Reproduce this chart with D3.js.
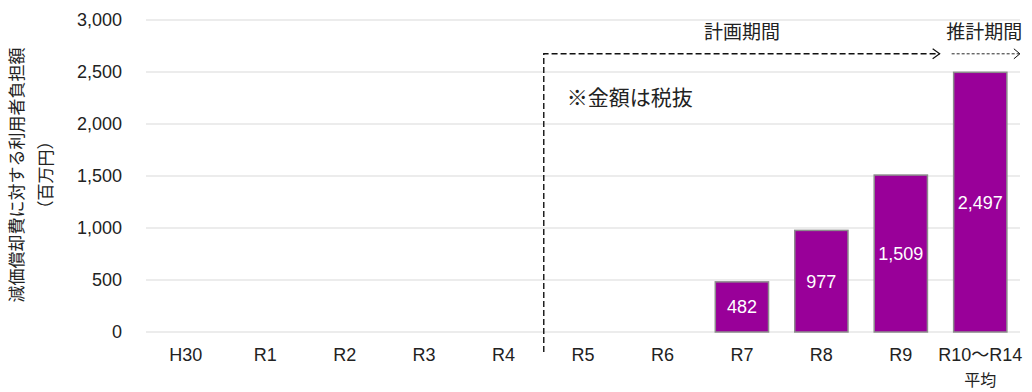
<!DOCTYPE html>
<html>
<head>
<meta charset="utf-8">
<script src="https://cdnjs.cloudflare.com/ajax/libs/d3/7.8.5/d3.min.js"></script>
<style>
  body { margin: 0; background: #fff; }
  text { font-family: "Liberation Sans", Arial, "Noto Sans CJK JP", sans-serif; fill: #222; }
  .jp { font-family: "Noto Sans CJK JP", sans-serif; }
</style>
</head>
<body>
<div id="chart"></div>
<script>
var categories = ["H30", "R1", "R2", "R3", "R4", "R5", "R6", "R7", "R8", "R9", "R10～R14"];
var values = [null, null, null, null, null, null, null, 482, 977, 1509, 2497];
var yTicks = [0, 500, 1000, 1500, 2000, 2500, 3000];

var W = 1032, H = 392;
var margin = {top: 20, right: 12, bottom: 60, left: 146};
var width = W - margin.left - margin.right,
    height = H - margin.top - margin.bottom;

var svg = d3.select("#chart").append("svg")
    .attr("width", W).attr("height", H);
var g = svg.append("g")
    .attr("transform", "translate(" + margin.left + "," + margin.top + ")");

var x = d3.scaleBand().domain(categories).range([0, width]).paddingInner(0.33).paddingOuter(0.165);
var y = d3.scaleLinear().domain([0, 3000]).range([height, 0]);
var fmt = d3.format(",");

// grid lines
g.selectAll(".grid").data(yTicks).enter().append("line")
    .attr("x1", 0).attr("x2", width)
    .attr("y1", function(d) { return y(d); })
    .attr("y2", function(d) { return y(d); })
    .attr("stroke", "#d9d9d9").attr("stroke-width", 1);

// y axis
var yAxis = g.append("g")
    .call(d3.axisLeft(y).tickValues(yTicks).tickFormat(fmt).tickSize(0).tickPadding(24));
yAxis.select(".domain").remove();
yAxis.selectAll("text").style("font-size", "18px").attr("fill", "#222")
    .style("font-family", "'Liberation Sans', Arial, sans-serif");

// x axis
var xAxis = g.append("g")
    .attr("transform", "translate(0," + height + ")")
    .call(d3.axisBottom(x).tickSize(0).tickPadding(16));
xAxis.select(".domain").remove();
xAxis.selectAll("text").style("font-size", "18px").attr("fill", "#222")
    .style("font-family", "'Liberation Sans', Arial, 'Noto Sans CJK JP', sans-serif");
// second line under last label
g.append("text")
    .attr("class", "jp")
    .attr("x", x(categories[10]) + x.bandwidth() / 2)
    .attr("y", height + 54)
    .attr("text-anchor", "middle")
    .style("font-size", "16px")
    .text("平均");

// bars
var data = categories.map(function(c, i) { return {cat: c, v: values[i]}; })
    .filter(function(d) { return d.v != null; });
g.selectAll(".bar").data(data).enter().append("rect")
    .attr("x", function(d) { return x(d.cat); })
    .attr("y", function(d) { return y(d.v); })
    .attr("width", x.bandwidth())
    .attr("height", function(d) { return height - y(d.v); })
    .attr("fill", "#990099")
    .attr("stroke", "#8c8c8c").attr("stroke-width", 1.5);

g.selectAll(".lbl").data(data).enter().append("text")
    .attr("x", function(d) { return x(d.cat) + x.bandwidth() / 2; })
    .attr("y", function(d) { return (y(d.v) + height) / 2; })
    .attr("dy", "0.36em")
    .attr("text-anchor", "middle")
    .style("font-size", "18px")
    .style("fill", "#fff")
    .text(function(d) { return fmt(d.v); });

// y axis title
var yt = svg.append("text")
    .attr("class", "jp")
    .attr("transform", "translate(23," + (margin.top + height / 2 - 1) + ") rotate(-90)")
    .attr("text-anchor", "middle")
    .style("font-size", "17px");
yt.append("tspan").attr("x", 0).attr("dy", 0).text("減価償却費に対する利用者負担額");
yt.append("tspan").attr("x", 0).attr("dy", "1.7em").text("（百万円）");

// plan period bracket
var step = x.step();
var xSplit = x("R5") - x.paddingInner() * step / 2 + 0.5;
var yArrow = y(2675);
var xPlanEnd = x(categories[10]) - 14;
g.append("path")
    .attr("d", "M" + xSplit + "," + (height + 20) + "V" + yArrow + "H" + xPlanEnd)
    .attr("fill", "none").attr("stroke", "#111").attr("stroke-width", 1.4)
    .attr("stroke-dasharray", "6,3");
g.append("path")
    .attr("d", "M" + (xPlanEnd - 7) + "," + (yArrow - 5) + "L" + xPlanEnd + "," + yArrow + "L" + (xPlanEnd - 7) + "," + (yArrow + 5))
    .attr("fill", "none").attr("stroke", "#111").attr("stroke-width", 1.2);

// estimate period arrow
var xEstStart = x(categories[10]) - 2;
var xEstEnd = x(categories[10]) + x.bandwidth() + 13;
g.append("line")
    .attr("x1", xEstStart).attr("x2", xEstEnd)
    .attr("y1", yArrow).attr("y2", yArrow)
    .attr("stroke", "#111").attr("stroke-width", 0.9)
    .attr("stroke-dasharray", "3,2");
g.append("path")
    .attr("d", "M" + (xEstEnd - 6) + "," + (yArrow - 5) + "L" + xEstEnd + "," + yArrow + "L" + (xEstEnd - 6) + "," + (yArrow + 5))
    .attr("fill", "none").attr("stroke", "#111").attr("stroke-width", 1);

g.append("text").attr("class", "jp")
    .attr("x", x("R7") + x.bandwidth() / 2)
    .attr("y", yArrow - 15)
    .attr("text-anchor", "middle")
    .style("font-size", "19px")
    .text("計画期間");
g.append("text").attr("class", "jp")
    .attr("x", x(categories[10]) + x.bandwidth() / 2 + 4)
    .attr("y", yArrow - 15)
    .attr("text-anchor", "middle")
    .style("font-size", "19px")
    .text("推計期間");

g.append("text").attr("class", "jp")
    .attr("x", xSplit + 23)
    .attr("y", y(2250) + 7)
    .style("font-size", "21px")
    .text("※金額は税抜");
</script>
</body>
</html>
